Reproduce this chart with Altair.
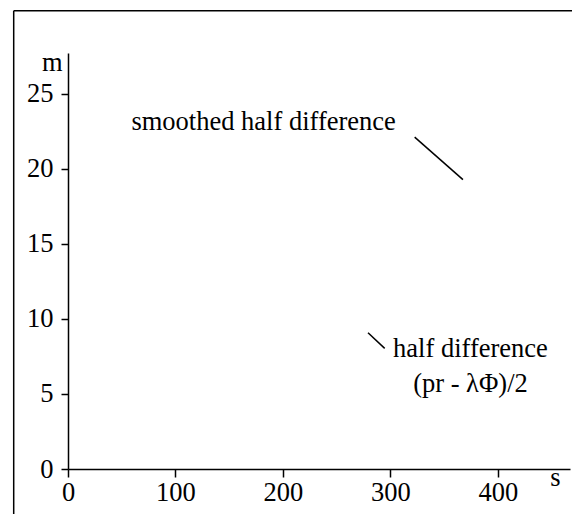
import altair as alt
import pandas as pd

# axis ticks
x_ticks = [0, 100, 200, 300, 400]
y_ticks = [0, 5, 10, 15, 20, 25]

# annotation pointer segments (data units)
seg_x = [322.5, 279.1]
seg_y = [22.1, 9.07]
seg_x2 = [367.4, 294.6]
seg_y2 = [19.27, 8.03]

# annotation texts (data units)
label_text = ["smoothed half difference", "half difference", "(pr - λΦ)/2"]
label_x = [59.0, 374.4, 374.4]
label_y = [22.55, 7.47, 5.14]
label_align = ["left", "center", "center"]

FONT = "'Liberation Serif', 'Times New Roman', Times, serif"
FS = 26.5

segs = pd.DataFrame({"x": seg_x, "y": seg_y, "x2": seg_x2, "y2": seg_y2})
labels = pd.DataFrame({"t": label_text, "x": label_x, "y": label_y, "a": label_align})

xscale = alt.Scale(domain=[0, 467], nice=False, zero=False)
yscale = alt.Scale(domain=[0, 27.7], nice=False, zero=False)

xaxis = alt.Axis(values=x_ticks, grid=False, tickSize=8, labelPadding=2, labelFlush=False,
                 labelFont=FONT, labelFontSize=FS, labelColor="black",
                 domainColor="black", tickColor="black", domainWidth=1.5, tickWidth=1.5,
                 title="s", titleFont=FONT, titleFontSize=FS, titleFontWeight="normal",
                 titleColor="black", titleX=487, titleY=16, titleAlign="center",
                 titleBaseline="alphabetic")
yaxis = alt.Axis(values=y_ticks, grid=False, tickSize=7, labelPadding=8, labelFlush=False,
                 labelFont=FONT, labelFontSize=FS, labelColor="black",
                 domainColor="black", tickColor="black", domainWidth=1.5, tickWidth=1.5,
                 title="m", titleFont=FONT, titleFontSize=FS, titleFontWeight="normal",
                 titleColor="black", titleX=-6, titleY=17, titleAlign="right",
                 titleAngle=0, titleBaseline="alphabetic")

rules = alt.Chart(segs).mark_rule(color="black", strokeWidth=1.5).encode(
    x=alt.X("x:Q", scale=xscale, axis=xaxis),
    y=alt.Y("y:Q", scale=yscale, axis=yaxis),
    x2="x2:Q",
    y2="y2:Q",
)

text_left = alt.Chart(labels).transform_filter(alt.datum.a == "left").mark_text(
    font=FONT, fontSize=FS, color="black", align="left", baseline="alphabetic"
).encode(x=alt.X("x:Q", scale=xscale), y=alt.Y("y:Q", scale=yscale), text="t:N")

text_center = alt.Chart(labels).transform_filter(alt.datum.a == "center").mark_text(
    font=FONT, fontSize=FS, color="black", align="center", baseline="alphabetic"
).encode(x=alt.X("x:Q", scale=xscale), y=alt.Y("y:Q", scale=yscale), text="t:N")

frame_data = pd.DataFrame({"k": [0]})
frame_top = alt.Chart(frame_data).mark_rule(color="black", strokeWidth=1.5).encode(
    x=alt.value(-54.3), x2=alt.value(520), y=alt.value(-42.2))
frame_left = alt.Chart(frame_data).mark_rule(color="black", strokeWidth=1.5).encode(
    x=alt.value(-54.3), y=alt.value(-42.2), y2=alt.value(470))

chart = alt.layer(frame_top, frame_left, rules, text_left, text_center).properties(
    width=502, height=416,
    autosize=alt.AutoSizeParams(type="none"),
    padding={"left": 60, "top": 45, "right": 2, "bottom": 45},
    background="white",
).configure_view(stroke=None)

chart.save("out.html", embed_options={"renderer": "svg", "actions": False})
